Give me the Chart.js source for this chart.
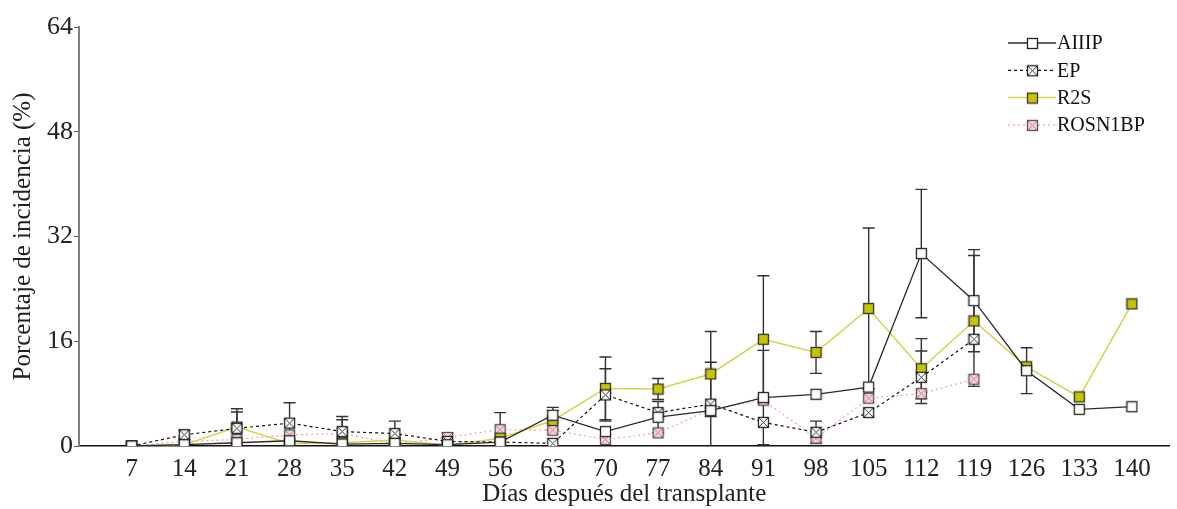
<!DOCTYPE html>
<html>
<head>
<meta charset="utf-8">
<script src="https://cdn.jsdelivr.net/npm/chart.js@4.4.1/dist/chart.umd.min.js"></script>
<style>
  html, body { margin: 0; padding: 0; background: #ffffff; }
  canvas { display: block; }
</style>
</head>
<body>
<canvas id="grafico" width="1177" height="509"></canvas>
<script>
// días después del transplante
const dias = [7, 14, 21, 28, 35, 42, 49, 56, 63, 70, 77, 84, 91, 98, 105, 112, 119, 126, 133, 140];
const ticksY = [0, 16, 32, 48, 64];

// porcentaje de incidencia por tratamiento
const aiiip = [0, 0.2, 0.5, 0.8, 0.3, 0.4, 0.2, 0.6, 4.7, 2.2, 4.4, 5.4, 7.4, 7.9, 9.0, 29.4, 22.2, 11.5, 5.6, 6.0];
const ep = [0, 1.7, 2.7, 3.5, 2.2, 1.9, 0.7, 0.6, 0.4, 7.8, 5.1, 6.4, 3.6, 2.1, 5.1, 10.5, 16.3, null, null, null];
const r2s = [0, 0.2, 2.9, 0.4, 0.5, 0.9, 0.1, 1.2, 3.9, 8.8, 8.7, 11.0, 16.3, 14.3, 21.0, 11.8, 19.1, 12.1, 7.5, 21.7];
const rosn1bp = [0, 0.7, 1.0, 1.7, 1.9, 0.3, 1.3, 2.5, 2.4, 1.0, 2.0, 5.6, 7.0, 1.2, 7.3, 8.0, 10.2, null, null, null];

// error estándar (null = sin barra)
const errAiiip = [null, null, null, null, null, null, null, null, 1.2, null, 2.4, 7.4, 7.2, null, null, 9.8, 7.8, 3.5, null, null];
const errEp = [null, 0.7, 2.5, 3.1, 2.3, 1.9, null, null, null, 4.0, null, null, null, 1.7, null, 4.0, null, null, null, null];
const errR2s = [null, null, 2.8, null, null, null, null, null, 1.5, 4.8, 1.6, 6.5, 9.7, 3.2, 12.3, 4.6, 10.0, null, null, null];
const errRosn1bp = [null, null, null, null, 2.1, null, 0.7, 2.6, null, null, null, null, null, null, null, null, null, null, null, null];

const FUENTE = '"Liberation Serif", "DejaVu Serif", serif';

// marcadores cuadrados dibujados en un canvas aparte
function marcador(relleno, borde, cruz) {
  const c = document.createElement("canvas");
  c.width = 13;
  c.height = 13;
  const ctx = c.getContext("2d");
  ctx.fillStyle = relleno;
  ctx.fillRect(1, 1, 11, 11);
  if (cruz) {
    ctx.strokeStyle = cruz;
    ctx.lineWidth = 1;
    ctx.beginPath();
    ctx.moveTo(2, 2); ctx.lineTo(11, 11);
    ctx.moveTo(11, 2); ctx.lineTo(2, 11);
    ctx.stroke();
  }
  ctx.strokeStyle = borde;
  ctx.lineWidth = 1.3;
  ctx.strokeRect(1.5, 1.5, 10, 10);
  return c;
}

function serie(etiqueta, valores, errores, color, ancho, guiones, punto) {
  return {
    label: etiqueta,
    data: dias.map((d, i) => ({ x: d, y: valores[i] })),
    errores: errores,
    borderColor: color,
    borderWidth: ancho,
    borderDash: guiones,
    pointStyle: punto,
    pointRadius: 6,
    spanGaps: false,
    tension: 0,
  };
}

const datasets = [
  serie("AIIIP", aiiip, errAiiip, "#2a2a2a", 1.3, [], marcador("#ffffff", "#222222", null)),
  serie("EP", ep, errEp, "#111111", 1.2, [3, 3], marcador("#ffffff", "#222222", "#333333")),
  serie("R2S", r2s, errR2s, "#d4d44c", 1.5, [], marcador("#c9c400", "#333333", null)),
  serie("ROSN1BP", rosn1bp, errRosn1bp, "#f0a2ac", 1.2, [2, 3], marcador("#f7d7dc", "#555555", "#d9707f")),
];

// barras de error verticales con remates
const barrasError = {
  id: "barrasError",
  beforeDatasetsDraw(chart) {
    const ctx = chart.ctx;
    const x = chart.scales.x;
    const y = chart.scales.y;
    ctx.save();
    ctx.strokeStyle = "#333333";
    ctx.lineWidth = 1.4;
    chart.data.datasets.forEach((ds) => {
      ds.data.forEach((p, i) => {
        const e = ds.errores[i];
        if (e == null || p.y == null) return;
        const px = x.getPixelForValue(p.x);
        const arriba = y.getPixelForValue(p.y + e);
        const abajo = y.getPixelForValue(Math.max(p.y - e, 0));
        ctx.beginPath();
        ctx.moveTo(px, arriba); ctx.lineTo(px, abajo);
        ctx.moveTo(px - 6, arriba); ctx.lineTo(px + 6, arriba);
        if (p.y - e > 0) {
          ctx.moveTo(px - 6, abajo); ctx.lineTo(px + 6, abajo);
        }
        ctx.stroke();
      });
    });
    ctx.restore();
  },
};

// leyenda con línea y marcador, arriba a la derecha
const leyenda = {
  id: "leyenda",
  afterDraw(chart) {
    const ctx = chart.ctx;
    ctx.save();
    ctx.font = "20px " + FUENTE;
    ctx.textBaseline = "middle";
    ctx.fillStyle = "#111111";
    chart.data.datasets.forEach((ds, i) => {
      const yy = 43 + i * 27.3;
      ctx.strokeStyle = ds.borderColor;
      ctx.lineWidth = ds.borderWidth;
      ctx.setLineDash(ds.borderDash);
      ctx.beginPath();
      ctx.moveTo(1008, yy);
      ctx.lineTo(1056, yy);
      ctx.stroke();
      ctx.setLineDash([]);
      ctx.drawImage(ds.pointStyle, 1026, yy - 6);
      ctx.fillText(ds.label, 1057, yy + 1);
    });
    ctx.restore();
  },
};

new Chart(document.getElementById("grafico"), {
  type: "line",
  data: { datasets: datasets },
  options: {
    responsive: false,
    animation: false,
    layout: { padding: { top: 27, right: 1, left: 0, bottom: 0 } },
    plugins: {
      legend: { display: false },
      tooltip: { enabled: false },
    },
    scales: {
      x: {
        type: "linear",
        min: 0,
        max: 145,
        afterBuildTicks: (axis) => { axis.ticks = dias.map((v) => ({ value: v })); },
        afterFit: (scale) => { scale.height = 63; },
        grid: { display: true, drawOnChartArea: false, drawTicks: false },
        border: { color: "#111111", width: 1.5 },
        ticks: {
          autoSkip: false,
          maxRotation: 0,
          padding: 8,
          color: "#222222",
          font: { family: FUENTE, size: 25 },
        },
        title: {
          display: true,
          text: "Días después del transplante",
          color: "#222222",
          font: { family: FUENTE, size: 25 },
          padding: { top: 0, bottom: 0 },
        },
      },
      y: {
        min: 0,
        max: 64,
        afterBuildTicks: (axis) => { axis.ticks = ticksY.map((v) => ({ value: v })); },
        afterFit: (scale) => { scale.width = 79; },
        grid: { display: true, drawOnChartArea: false, drawTicks: true, tickLength: 5, color: "#555555" },
        border: { color: "#808080", width: 2 },
        ticks: {
          padding: 1,
          color: "#222222",
          font: { family: FUENTE, size: 26 },
        },
        title: {
          display: true,
          text: "Porcentaje de incidencia (%)",
          color: "#222222",
          font: { family: FUENTE, size: 25 },
          padding: { top: 8, bottom: 0 },
        },
      },
    },
  },
  plugins: [barrasError, leyenda],
});
</script>
</body>
</html>
